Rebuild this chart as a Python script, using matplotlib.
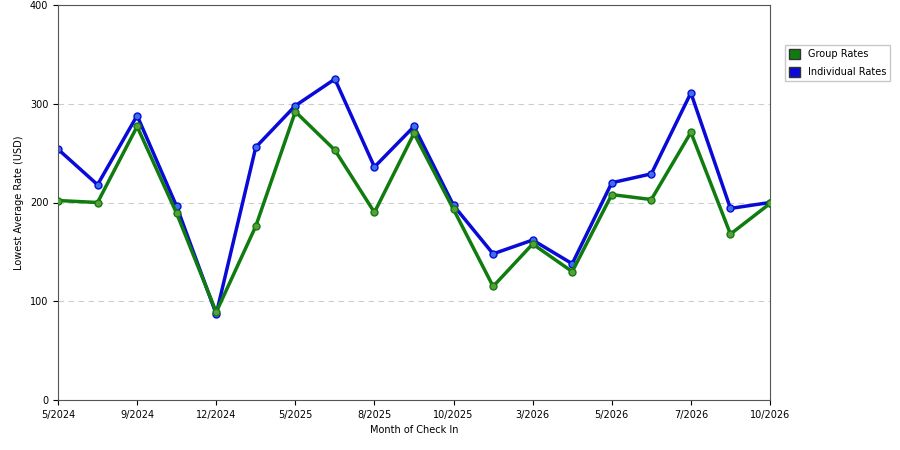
import matplotlib
matplotlib.use("Agg")
import matplotlib.pyplot as plt

tick_labels = ["5/2024", "9/2024", "12/2024", "5/2025", "8/2025", "10/2025", "3/2026", "5/2026", "7/2026", "10/2026"]
group_rates = [202, 200, 277, 189, 89, 176, 292, 253, 190, 270, 193, 115, 158, 130, 208, 203, 271, 168, 199]
individual_rates = [254, 218, 288, 196, 87, 256, 298, 325, 236, 277, 197, 148, 162, 138, 220, 229, 311, 194, 200]

fig = plt.figure(figsize=(9, 4.5), dpi=100)
ax = fig.add_axes([58/900, 50/450, 712/900, 395/450])
x = list(range(len(group_rates)))
ax.plot(x, group_rates, color="#107c10", lw=2.5, marker="o", ms=5, mfc="#5a9e3a", mec="#107c10", label="Group Rates", zorder=3)
ax.plot(x, individual_rates, color="#0a0ad8", lw=2.5, marker="o", ms=5, mfc="#3a70e8", mec="#0a0ad8", label="Individual Rates", zorder=2)
ax.set_xlim(0, len(x) - 1)
ax.set_ylim(0, 400)
ax.set_yticks([0, 100, 200, 300, 400])
ax.set_xticks(x[::2])
ax.set_xticklabels(tick_labels)
ax.tick_params(labelsize=7)
ax.yaxis.grid(True, ls=(0, (5, 4)), color="#cccccc", lw=0.8)
ax.set_xlabel("Month of Check In", fontsize=7)
ax.set_ylabel("Lowest Average Rate (USD)", fontsize=7)
for s in ax.spines.values():
    s.set_color("#555555")
h = [plt.Rectangle((0, 0), 1, 1, fc="#107c10", ec="#333333"), plt.Rectangle((0, 0), 1, 1, fc="#0a0ad8", ec="#333333")]
fig.legend(h, ["Group Rates", "Individual Rates"], loc="upper left", bbox_to_anchor=(780/900, 1 - 40/450),
           fontsize=7, frameon=True, fancybox=False, edgecolor="#bbbbbb", handlelength=1.2, handleheight=1.2, labelspacing=0.8)
fig.savefig("out.png")
